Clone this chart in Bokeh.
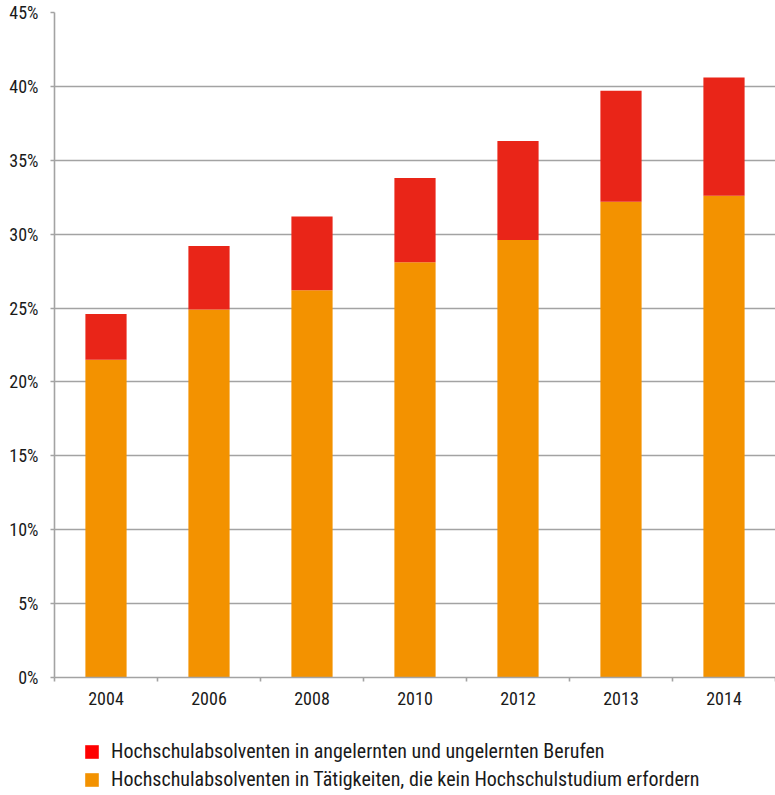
from bokeh.plotting import figure
from bokeh.layouts import column
from bokeh.models import Range1d, FixedTicker, PrintfTickFormatter, Legend, LegendItem
from bokeh.embed import file_html
from bokeh.resources import INLINE

years = ["2004", "2006", "2008", "2010", "2012", "2013", "2014"]
no_degree_needed = [21.5, 24.9, 26.2, 28.1, 29.6, 32.2, 32.6]
unskilled = [3.1, 4.3, 5.0, 5.7, 6.7, 7.5, 8.0]
y_ticks = [0, 5, 10, 15, 20, 25, 30, 35, 40, 45]
label_unskilled = "Hochschulabsolventen in angelernten und ungelernten Berufen"
label_no_degree = "Hochschulabsolventen in Tätigkeiten, die kein Hochschulstudium erfordern"

FONT = "Roboto Condensed"
GRID = "#a3a3a3"
TXT = "#1a1a1a"
ORANGE = "#f39200"
RED = "#e92518"

n = len(years)
xc = [i + 0.5 for i in range(n)]
tops = [a + b for a, b in zip(no_degree_needed, unskilled)]

p = figure(width=775, height=725,
           output_backend="svg", toolbar_location=None,
           x_range=Range1d(0, n), y_range=Range1d(0, 45),
           min_border_left=54, min_border_right=0, min_border_top=12,
           min_border_bottom=48)
p.outline_line_color = None

p.vbar(x=xc, bottom=0, top=no_degree_needed, width=0.4, color=ORANGE, line_color=None)
p.vbar(x=xc, bottom=no_degree_needed, top=tops, width=0.4, color=RED, line_color=None)

p.xgrid.visible = False
p.ygrid.ticker = FixedTicker(ticks=y_ticks)
p.ygrid.grid_line_color = GRID
p.ygrid.grid_line_width = 1.6

ya = p.yaxis[0]
ya.ticker = FixedTicker(ticks=y_ticks)
ya.formatter = PrintfTickFormatter(format="%d%%")
ya.axis_line_color = GRID
ya.axis_line_width = 1.6
ya.major_tick_line_color = GRID
ya.major_tick_line_width = 1.6
ya.major_tick_in = 0
ya.major_tick_out = 4
ya.minor_tick_line_color = None
ya.major_label_text_font = FONT
ya.major_label_text_font_size = "18px"
ya.major_label_text_color = TXT
ya.major_label_standoff = 12

xa = p.xaxis[0]
xa.ticker = FixedTicker(ticks=xc, minor_ticks=list(range(n + 1)))
xa.major_label_overrides = {c: y for c, y in zip(xc, years)}
xa.axis_line_color = GRID
xa.axis_line_width = 1.6
xa.major_tick_line_color = None
xa.minor_tick_line_color = GRID
xa.minor_tick_line_width = 1.6
xa.minor_tick_in = 0
xa.minor_tick_out = 4
xa.major_label_text_font = FONT
xa.major_label_text_font_size = "18px"
xa.major_label_text_color = TXT
xa.major_label_standoff = 8

# legend figure below the chart
lp = figure(width=775, height=70, output_backend="svg", toolbar_location=None,
            x_axis_type=None, y_axis_type=None,
            x_range=Range1d(0, 1), y_range=Range1d(0, 1),
            min_border_left=0, min_border_right=0, min_border_top=0, min_border_bottom=0)
lp.outline_line_color = None
lp.xgrid.visible = False
lp.ygrid.visible = False
pr = lp.vbar(x=[0.5], bottom=[0], top=[0], width=0.0, color="#ff0000", line_color=None)
po = lp.vbar(x=[0.5], bottom=[0], top=[0], width=0.0, color=ORANGE, line_color=None)

legend = Legend(items=[LegendItem(label=label_unskilled, renderers=[pr]),
                       LegendItem(label=label_no_degree, renderers=[po])],
                location=(29, 4), orientation="vertical",
                label_text_font=FONT, label_text_font_size="20px",
                label_text_color=TXT,
                glyph_width=17, glyph_height=17, label_height=17,
                spacing=4, label_standoff=11, padding=0, margin=0,
                border_line_color=None, background_fill_alpha=0)
lp.add_layout(legend, "center")

layout = column(p, lp, spacing=0)
html = file_html(layout, INLINE)
open("out.html", "w").write(html)
